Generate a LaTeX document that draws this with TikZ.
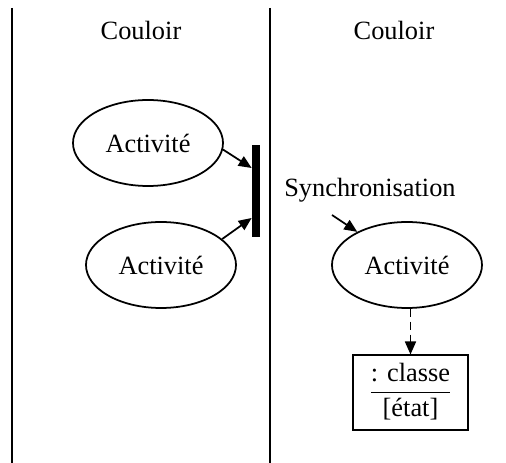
\documentclass[tikz,border=0pt]{standalone}
\usepackage{fontspec}
\setmainfont{Liberation Serif}
\usepackage{tikz}
\usetikzlibrary{arrows.meta,positioning,calc,shapes.geometric}

\begin{document}
\begin{tikzpicture}[
    every node/.style={
      font=\fontsize{15}{17.5}\selectfont
    },
    lane/.style={
      line width=1.1pt,
      color=black
    },
    act/.style={
      ellipse,
      draw,
      line width=1pt,
      minimum width=3.0cm,
      minimum height=1.72cm,
      inner sep=0pt
    },
    syncbar/.style={
      rectangle,
      fill=black,
      minimum width=0.16cm,
      minimum height=1.84cm,
      inner sep=0pt
    },
    objbox/.style={
      rectangle,
      draw,
      line width=0.6pt,
      minimum width=2.3cm,
      minimum height=1.5cm,
      inner sep=0pt
    },
    flow/.style={
      line width=1pt,
      -{Triangle[length=0.26cm,width=0.22cm]}
    },
    depend/.style={
      flow,
      dash pattern=on 4.5pt off 2.8pt
    }
  ]

  \useasboundingbox (0,0) rectangle (10.12,9.26);

  % Swimlanes
  \coordinate (l1top) at (0.24,9.1);
  \coordinate (l1bot) at (0.24,0);
  \coordinate (l2top) at (5.4,9.1);
  \coordinate (l2bot) at (5.4,0);
  \draw[lane] (l1top) -- (l1bot);
  \draw[lane] (l2top) -- (l2bot);
  \node (c1) at (2.82,8.66) {Couloir};
  \node (c2) at (7.88,8.66) {Couloir};

  % Activities
  \node[act] (a1) at (2.96,6.40) {Activité};
  \node[act] (a2) at (3.22,3.96) {Activité};
  \node[act] (a3) at (8.14,3.96) {Activité};

  % Synchronisation bar
  \node[syncbar] (bar) at (5.12,5.44) {};
  \node[anchor=base] (sync) at (7.40,5.32) {Synchronisation};
  \coordinate (syncend) at (6.64,4.96);

  % Object
  \node[objbox] (obj) at (8.21,1.41) {%
    \renewcommand{\arraystretch}{1.12}%
    \setlength{\tabcolsep}{0pt}%
    \begin{tabular}{c}
      : classe \\ \hline
      [état]
    \end{tabular}};

  % Flows
  \draw[flow] (a1.-5) -- ([yshift=0.46cm]bar.west);
  \draw[flow] (a2.23) -- ([yshift=-0.54cm]bar.west);
  \draw[flow] (syncend) -- (a3);
  \draw[depend] (obj.north |- a3.south) -- (obj.north);

\end{tikzpicture}
\end{document}
